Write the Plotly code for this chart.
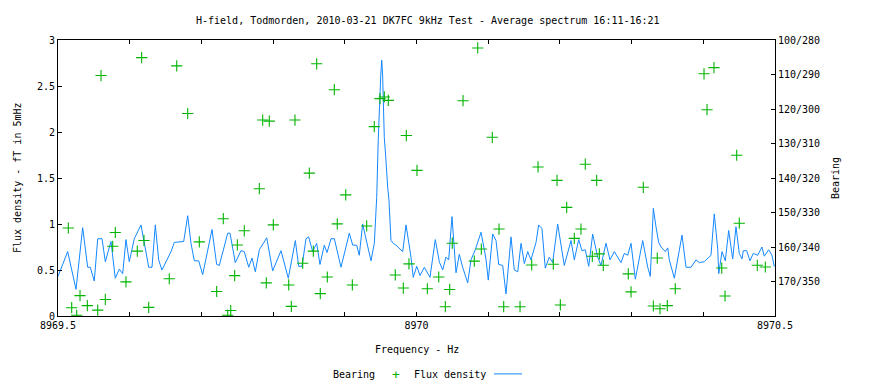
import plotly.graph_objects as go

BASE_F = 8969.5
TITLE = "H-field, Todmorden, 2010-03-21 DK7FC 9kHz Test - Average spectrum 16:11-16:21"

# Flux density spectrum: frequency offset from 8969.5 Hz (mHz) and flux (fT in 5 mHz)
flux_off_mhz = [0, 13.5, 25.1, 34.4, 41.4, 45.0, 50.6, 55.4, 61.4, 66.0, 73.9, 79.9, 85.5, 90.2,
    94.8, 99.4, 106.4, 115.8, 126.5, 131.1, 135.7, 140.4, 145.0, 157.6, 162.2, 171.5, 175.3,
    180.9, 185.5, 190.1, 196.2, 201.8, 214.8, 221.3, 225.0, 236.7, 239.9, 247.3, 255.2, 259.8,
    266.0, 270.6, 275.2, 280.8, 291.1, 299.4, 311.0, 321.2, 331.0, 335.7, 340.3, 345.9, 349.6,
    355.2, 360.8, 365.4, 371.4, 375.2, 380.8, 385.4, 394.7, 406.3, 411.0, 416.6, 420.2, 424.9,
    430.5, 436.5, 441.2, 444.5, 446.7, 448.1, 450.1, 451.5, 452.8, 453.7, 455.1, 457.0, 458.4,
    459.8, 461.6, 464.4, 467.6, 471.4, 480.8, 485.4, 492.3, 495.5, 500.3, 504.9, 510.9, 518.8,
    526.2, 531.8, 536.5, 541.1, 544.9, 549.5, 555.1, 559.7, 564.4, 571.4, 576.0, 582.0, 590.0,
    596.9, 600.1, 606.3, 610.9, 614.7, 620.2, 624.8, 631.8, 636.4, 641.2, 645.8, 650.4, 655.1,
    659.7, 666.7, 670.4, 675.0, 679.6, 685.2, 689.9, 696.9, 706.1, 715.5, 720.1, 726.2, 730.8,
    735.4, 740.2, 745.7, 752.7, 757.3, 764.3, 769.9, 775.9, 785.2, 789.8, 794.6, 799.2, 805.2,
    815.5, 822.5, 826.1, 829.4, 830.3, 834.0, 837.8, 841.0, 847.0, 850.4, 852.6, 859.6, 870.3,
    875.9, 882.9, 889.8, 894.4, 901.4, 910.7, 915.3, 920.1, 921.5, 926.1, 930.7, 935.4, 941.0,
    945.6, 950.2, 954.0, 955.8, 960.5, 965.1, 969.7, 975.9, 981.8, 985.0, 991.2, 995.8, 999.0,
    1000]
flux_ft = [0.43, 0.70, 0.29, 0.96, 0.53, 0.53, 0.38, 0.84, 0.84, 0.59, 0.81, 0.41, 0.51, 0.46,
    0.83, 0.59, 0.84, 0.99, 0.53, 0.53, 0.99, 0.61, 0.50, 0.70, 0.80, 0.81, 0.81,
    1.09, 0.79, 0.60, 0.60, 0.45, 0.94, 0.56, 0.55, 0.90, 0.90, 0.58, 0.71, 0.70,
    0.53, 0.63, 0.48, 0.72, 0.85, 0.49, 0.71, 0.41, 0.82, 0.54, 0.54, 0.84, 0.86,
    0.70, 0.79, 0.56, 0.77, 0.69, 0.84, 0.84, 0.53, 0.90, 0.77, 0.77, 0.66, 1.00,
    0.79, 0.60, 0.79, 1.29, 1.92, 2.27, 2.61, 2.78, 2.61, 2.34, 1.94, 1.74, 1.55,
    1.40, 1.26, 0.82, 0.79, 0.77, 0.70, 0.99, 0.64, 0.42, 0.54, 0.44, 0.53, 0.42,
    0.83, 0.59, 0.50, 0.64, 0.61, 1.08, 0.47, 0.67, 0.53, 0.36, 0.61, 0.72, 0.91,
    0.62, 0.39, 0.89, 0.82, 0.56, 0.55, 0.24, 0.86, 0.50, 0.48, 0.79, 0.57, 0.70,
    0.61, 0.80, 0.99, 0.95, 0.52, 0.64, 0.58, 1.00, 0.55, 0.82, 0.61, 0.83, 0.71,
    0.72, 0.54, 0.89, 0.64, 0.55, 0.79, 0.61, 0.70, 0.58, 0.68, 0.66, 0.79, 0.40,
    0.82, 0.53, 0.43, 1.04, 1.17, 0.97, 0.80, 0.75, 0.70, 0.74, 0.61, 0.41, 0.88,
    0.53, 0.53, 0.61, 0.58, 0.59, 0.66, 1.11, 0.73, 0.46, 0.70, 0.60, 0.93, 0.62,
    0.97, 0.68, 0.62, 0.71, 0.71, 0.60, 0.68, 0.66, 0.75, 0.65, 0.72, 0.66, 0.54,
    0.55]

# Bearing estimates: frequency offset (mHz) and bearing (deg, first of the two readings)
bearing_off_mhz = [14.4, 19.1, 26.1, 30.7, 40.9, 55.4, 60.0, 66.0, 76.3, 79.9, 94.8, 110.6,
    116.7, 119.9, 126.5, 155.2, 165.6, 180.9, 197.1, 221.3, 230.5, 236.7, 240.9, 246.4, 250.1,
    259.8, 280.8, 285.5, 290.5, 294.7, 300.3, 321.8, 325.4, 330.5, 341.3, 350.5, 356.1, 360.8,
    365.8, 375.6, 385.4, 389.5, 401.3, 410.5, 430.5, 441.1, 449.1, 455.1, 460.7, 470.4, 481.6,
    485.8, 489.5, 500.7, 515.1, 531.0, 540.2, 546.3, 549.9, 564.9, 580.6, 585.4, 590.4, 605.7,
    615.1, 621.6, 644.4, 660.7, 669.5, 690.8, 696.0, 700.6, 709.5, 720.1, 729.4, 735.4, 745.2,
    751.3, 755.0, 760.5, 795.4, 799.2, 816.3, 830.3, 835.8, 839.6, 849.8, 860.9, 901.0, 905.2,
    914.9, 925.7, 930.3, 946.6, 950.2, 975.3, 986.5]
bearing_deg = [154.5, 177.6, 179.8, 174.1, 177.0, 178.3, 110.3, 175.2, 159.8, 155.8, 170.1, 161.2,
    105.1, 158.1, 177.5, 169.2, 107.5, 121.3, 158.5, 172.9, 151.8, 179.8, 178.4, 168.3, 159.4,
    155.3, 143.1, 123.2, 170.4, 123.5, 153.6, 171.0, 177.2, 123.2, 164.7, 138.6, 161.2, 106.9,
    173.5, 168.7, 114.4, 153.3, 144.9, 171.0, 153.9, 125.1, 117.0, 116.5, 117.5, 168.1, 171.9,
    127.7, 164.9, 137.8, 172.1, 168.7, 177.3, 172.3, 158.9, 117.6, 164.1, 102.3, 160.6, 128.2,
    154.8, 177.3, 177.3, 165.2, 136.8, 165.0, 140.7, 176.8, 148.5, 157.5, 154.8, 136.0, 162.7,
    140.7, 162.0, 165.3, 167.8, 173.0, 142.7, 177.1, 163.2, 177.9, 177.0, 172.1, 109.8, 120.2,
    108.0, 166.1, 174.2, 133.4, 153.1, 165.3, 165.8]

bearing_ticks = [100, 110, 120, 130, 140, 150, 160, 170]
bearing_tick_text = ["100/280", "110/290", "120/300", "130/310", "140/320", "150/330",
                     "160/340", "170/350"]
flux_ticks = [0, 0.5, 1, 1.5, 2, 2.5, 3]
flux_tick_text = ["0", "0.5", "1", "1.5", "2", "2.5", "3"]
freq_ticks = [8969.5, 8969.6, 8969.7, 8969.8, 8969.9, 8970.0, 8970.1, 8970.2, 8970.3, 8970.4, 8970.5]
freq_tick_text = ["8969.5", "", "", "", "", "8970", "", "", "", "", "8970.5"]

FONT = "DejaVu Sans Mono"
BLUE = "rgb(20,136,255)"
GREEN = "rgb(0,180,0)"

flux_f = [BASE_F + v / 1000 for v in flux_off_mhz]
bearing_f = [BASE_F + v / 1000 for v in bearing_off_mhz]

PW = 717.0   # plot width (px)
PH = 276.5   # plot height (px)

fig = go.Figure()
fig.add_trace(go.Scatter(
    x=bearing_f, y=bearing_deg, yaxis="y2", mode="markers", name="Bearing",
    marker=dict(symbol="cross-thin", size=8, line=dict(color=GREEN, width=1.1), color=GREEN),
    showlegend=False))
fig.add_trace(go.Scatter(
    x=flux_f, y=flux_ft, mode="lines", name="Flux density",
    line=dict(color=BLUE, width=1), showlegend=False))

fig.update_layout(
    width=888, height=376,
    margin=dict(l=50, r=121, t=31.5, b=68, autoexpand=False),
    paper_bgcolor="white", plot_bgcolor="white",
    font=dict(family=FONT, size=10, color="black"),
    xaxis=dict(range=[8969.5, 8970.5], tickmode="array", tickvals=freq_ticks,
               ticktext=freq_tick_text, ticks="inside", ticklen=4, tickcolor="black",
               showline=True, linecolor="black", linewidth=1, mirror="ticks",
               showgrid=False, zeroline=False, tickfont=dict(family=FONT, size=10)),
    yaxis=dict(range=[0, 3], tickmode="array", tickvals=flux_ticks, ticktext=flux_tick_text,
               ticks="inside", ticklen=4, tickcolor="black", showline=True,
               linecolor="black", linewidth=1, showgrid=False, zeroline=False,
               tickfont=dict(family=FONT, size=10)),
    yaxis2=dict(range=[180, 100], overlaying="y", side="right", tickmode="array",
                tickvals=bearing_ticks, ticktext=bearing_tick_text, ticks="inside",
                ticklen=4, tickcolor="black", showline=True, linecolor="black",
                linewidth=1, showgrid=False, zeroline=False,
                tickfont=dict(family=FONT, size=10)),
    annotations=[
        dict(text=TITLE, xref="paper", yref="paper", x=(428 - 58) / PW, y=1, yshift=20,
             showarrow=False, xanchor="center", yanchor="middle"),
        dict(text="Frequency - Hz", xref="paper", yref="paper", x=0.5, y=0, yshift=-33,
             showarrow=False, xanchor="center", yanchor="middle"),
        dict(text="Flux density - fT in 5mHz", xref="paper", yref="paper", x=0, y=0.5,
             xshift=-41, textangle=-90, showarrow=False, xanchor="center", yanchor="middle"),
        dict(text="Bearing", xref="paper", yref="paper", x=1, y=0.5, xshift=60,
             textangle=-90, showarrow=False, xanchor="center", yanchor="middle"),
        dict(text="Bearing", xref="paper", yref="paper", x=(377 - 58) / PW, y=0, yshift=-58,
             showarrow=False, xanchor="right", yanchor="middle"),
        dict(text="+", xref="paper", yref="paper", x=(396 - 58) / PW, y=0, yshift=-58,
             showarrow=False, xanchor="center", yanchor="middle",
             font=dict(color=GREEN, size=13, family=FONT)),
        dict(text="Flux density", xref="paper", yref="paper", x=(488 - 58) / PW, y=0,
             yshift=-58, showarrow=False, xanchor="right", yanchor="middle"),
    ],
    shapes=[dict(type="line", xref="paper", yref="paper", x0=(494 - 58) / PW,
                 x1=(522 - 58) / PW, y0=-58 / PH, y1=-58 / PH,
                 line=dict(color=BLUE, width=1))],
)

fig.write_html("out.html")
